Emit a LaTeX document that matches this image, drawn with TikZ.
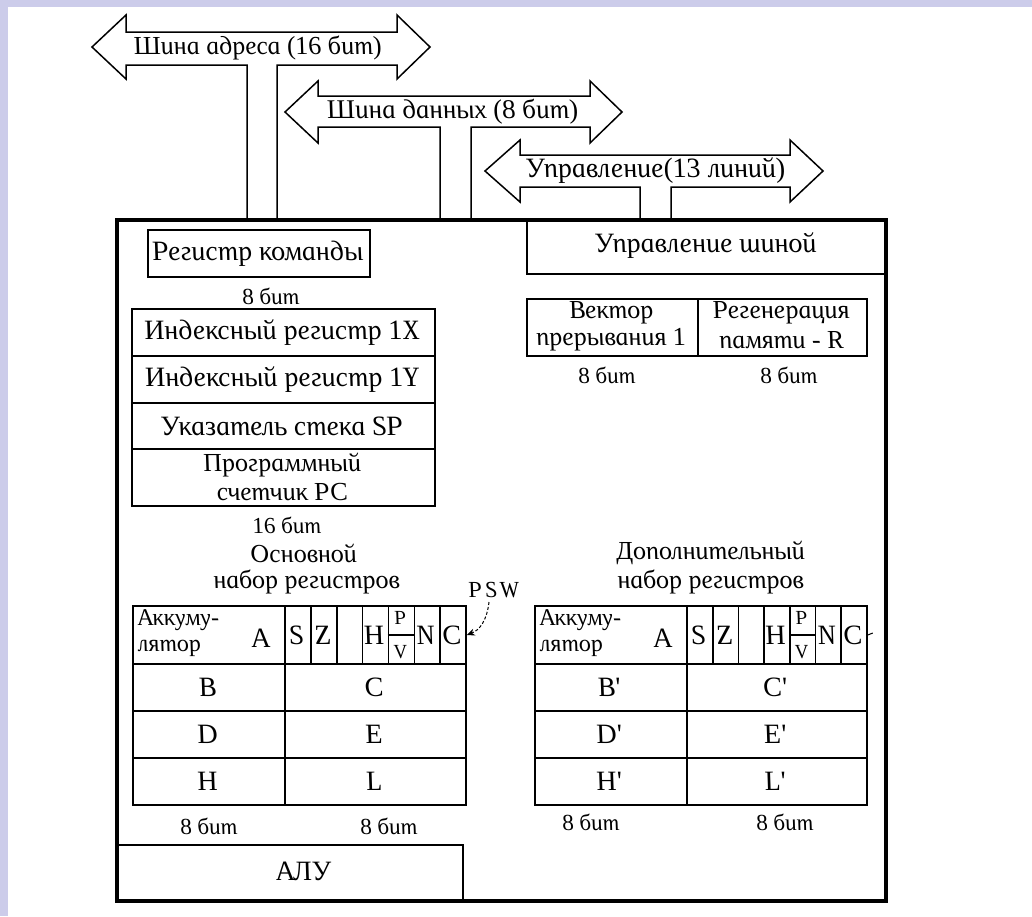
\documentclass[tikz,border=0pt]{standalone}
\usepackage{fontspec}
\newfontfamily\rf{Liberation Serif Italic}[FakeSlant=-0.21]
\usetikzlibrary{arrows.meta}
\definecolor{lav}{RGB}{204,204,234}
\begin{document}
\begin{tikzpicture}[x=1pt,y=-1pt,
  txt/.style={font=\rf\fontsize{28}{28}\selectfont, inner sep=0pt, align=center},
  two/.style={font=\rf\fontsize{26}{26}\selectfont, inner sep=0pt, align=center},
  ttl/.style={font=\rf\fontsize{26}{26}\selectfont, inner sep=0pt, align=center},
  acc/.style={font=\rf\fontsize{24}{24}\selectfont, inner sep=0pt, anchor=west},
  bl/.style={font=\rf\fontsize{26}{26}\selectfont, inner sep=0pt, align=center},
  sm/.style={font=\rf\fontsize{23}{23}\selectfont, inner sep=0pt},
  tiny/.style={font=\rf\fontsize{20}{20}\selectfont, inner sep=0pt},
  cell/.style={draw, line width=1.6pt, inner sep=0pt, font=\rf\fontsize{28}{28}\selectfont, align=center},
  bus/.style={line width=1.5pt, line join=miter},
  frame/.style={line width=3.5pt}]
% background and margins
\fill[white] (0,0) rectangle (1032,916);
\fill[lav] (0,0) rectangle (8,916);
\fill[lav] (0,0) rectangle (1032,7);
\useasboundingbox (0,0) rectangle (1032,916);

% main frame
\draw[frame] (117,220) rectangle (886,901);

% buses
\draw[bus] (277,220)--(277,65)--(397,65)--(397,79)--(430,47)--(397,15)--(397,32)--(126,32)--(126,15)--(92,47)--(126,79)--(126,65)--(247,65)--(247,220);
\node[bl] (abus) at (259,48) {Шина адреса (16 бит)};
\draw[bus] (471,220)--(471,127)--(590,127)--(590,143)--(622,112)--(590,81)--(590,96)--(318,96)--(318,81)--(285,112)--(318,143)--(318,127)--(440,127)--(440,220);
\node[bl,font=\rf\fontsize{27}{27}\selectfont] (dbus) at (454,112) {Шина данных (8 бит)};
\draw[bus] (671,220)--(671,187)--(790,187)--(790,202)--(823,171)--(790,140)--(790,155)--(520,155)--(520,140)--(485,171)--(520,202)--(520,187)--(640,187)--(640,220);
\node[txt] (cbus) at (657,171) {Управление(13 линий)};

% bus control
\draw[line width=1.6pt] (527,220)--(527,274)--(886,274);
\node[txt] (busctl) at (707,246) {Управление шиной};

% left register block
\node[cell, minimum width=222, minimum height=47] (cmd) at (259,253.5) {Регистр команды};
\node[sm] (b8a) at (272,296) {8 бит};
\node[cell, minimum width=303, minimum height=47] (ix) at (283.5,332.5) {Индексный регистр 1X};
\node[cell, minimum width=303, minimum height=47] (iy) at (283.5,379.5) {Индексный регистр 1Y};
\node[cell, minimum width=303, minimum height=46] (sp) at (283.5,426) {Указатель стека SP};
\draw[line width=1.6pt] (132,449) rectangle (435,506);
\node[two] (pc1) at (283.5,465) {Программный};
\node[two] (pc2) at (283.5,492) {счетчик PC};
\node[sm] (b16) at (288,525) {16 бит};

% right small registers
\draw[line width=1.6pt] (527,299) rectangle (867,356);
\draw[line width=1.6pt] (698,299) -- (698,356);
\node[two] (vec1) at (612.5,313) {Вектор};
\node[two] (vec2) at (612.5,340) {прерывания 1};
\node[two] (reg1) at (782.5,313) {Регенерация};
\node[two] (reg2) at (782.5,340) {памяти - R};
\node[sm] (b8v) at (608,375) {8 бит};
\node[sm] (b8r) at (790,375) {8 бит};

% titles
\node[ttl] (osn1) at (305,553) {Основной};
\node[ttl] (osn2) at (308,582) {набор регистров};
\node[ttl] (dop1) at (712,553) {Дополнительный};
\node[ttl] (dop2) at (712,582) {набор регистров};
\node[sm] (psw) at (495,590) {P\kern3pt S\kern3pt W};

% left register set
\draw[line width=1.6pt] (133,606) rectangle (285,664);
\node[acc] (accl1) at (139,620) {Аккуму-};
\node[acc] (accl2) at (139,648) {лятор};
\node[txt] (al) at (262,638) {A};
\foreach \t [count=\i from 0] in {S,Z,{},H,{},N,C}{
  \node[cell, minimum width=25.86, minimum height=58] (fl\i) at ({285+25.86*(\i+0.5)},635) {\t};
}
\draw[line width=1.4pt] (fl4.west) -- (fl4.east);
\node[tiny] (plp) at (fl4.north) [yshift=-13] {P};
\node[tiny] (plv) at (fl4.south) [yshift=13] {V};
\draw[densely dashed, line width=1pt, -{Stealth[length=8pt,width=7pt]}] (489,602) .. controls (487,620) and (480,630) .. (fl6.east);

\node[cell, minimum width=152, minimum height=47] (bl) at (209,687.5) {B};
\node[cell, minimum width=181, minimum height=47] (cl) at (375.5,687.5) {C};
\node[cell, minimum width=152, minimum height=47] (dl) at (209,734.5) {D};
\node[cell, minimum width=181, minimum height=47] (el) at (375.5,734.5) {E};
\node[cell, minimum width=152, minimum height=47] (hl) at (209,781.5) {H};
\node[cell, minimum width=181, minimum height=47] (ll) at (375.5,781.5) {L};
\node[sm] (b8l1) at (210,826) {8 бит};
\node[sm] (b8l2) at (390,826) {8 бит};

% right register set
\draw[line width=1.6pt] (535,606) rectangle (687,664);
\node[acc] (accr1) at (541,620) {Аккуму-};
\node[acc] (accr2) at (541,648) {лятор};
\node[txt] (ar) at (664,638) {A};
\foreach \t [count=\i from 0] in {S,Z,{},H,{},N,C}{
  \node[cell, minimum width=25.71, minimum height=58] (fr\i) at ({687+25.71*(\i+0.5)},635) {\t};
}
\draw[line width=1.4pt] (fr4.west) -- (fr4.east);
\node[tiny] (prp) at (fr4.north) [yshift=-13] {P};
\node[tiny] (prv) at (fr4.south) [yshift=13] {V};
\draw[line width=1pt] (fr6.east) -- ++(5,-2);

\node[cell, minimum width=152, minimum height=47] (br) at (611,687.5) {B'};
\node[cell, minimum width=180, minimum height=47] (cr) at (777,687.5) {C'};
\node[cell, minimum width=152, minimum height=47] (dr) at (611,734.5) {D'};
\node[cell, minimum width=180, minimum height=47] (er) at (777,734.5) {E'};
\node[cell, minimum width=152, minimum height=47] (hr) at (611,781.5) {H'};
\node[cell, minimum width=180, minimum height=47] (lr) at (777,781.5) {L'};
\node[sm] (b8r1) at (592,822) {8 бит};
\node[sm] (b8r2) at (786,822) {8 бит};

% ALU
\draw[line width=1.6pt] (117,845) -- (463,845) -- (463,901);
\node[txt] (alu) at (305,871) {АЛУ};
\end{tikzpicture}
\end{document}
